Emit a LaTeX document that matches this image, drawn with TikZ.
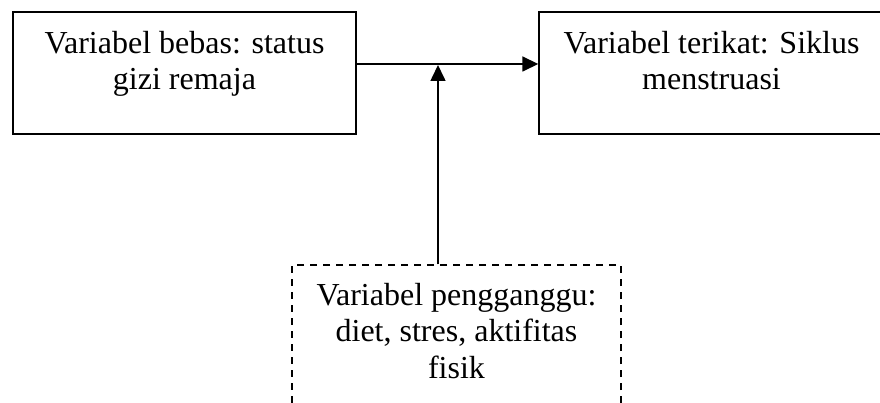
\documentclass[tikz,border=0pt]{standalone}
\usepackage{fontspec}
\setmainfont{Liberation Serif}
\usepackage{tikz}
\usetikzlibrary{arrows.meta}

\tikzset{
  kotak/.style={draw, line width=1.4pt, inner sep=0pt},
  kotakputus/.style={kotak, dash pattern=on 7pt off 6pt},
  teks/.style={inner sep=0pt, align=center, anchor=north,
    font=\fontsize{32}{36.5}\selectfont},
  panah/.style={line width=1.6pt, -{Triangle[length=16pt,width=15pt]}}
}

\begin{document}
\begin{tikzpicture}[x=1pt,y=1pt,yscale=-1,xscale=1]
\useasboundingbox (0,0) rectangle (880,403);
\clip (0,0) rectangle (880,403);

%Shape: Rectangle [bebas]
\node[kotak, minimum width=343, minimum height=122] (bebas) at (184.5,73) {};
%Shape: Rectangle [terikat]
\node[kotak, minimum width=345, minimum height=122] (terikat) at (711.5,73) {};
%Shape: Dashed Rectangle [pengganggu]
\node[kotakputus, minimum width=329, minimum height=160] (pengganggu) at (456.5,345) {};

% Text Node
\node[teks] (tbebas) at (184.5,31) {Variabel bebas: status\\gizi remaja};
% Text Node
\node[teks] (tterikat) at (711.5,31) {Variabel terikat: Siklus\\menstruasi};
% Text Node
\node[teks] (tpengganggu) at (456.5,283) {Variabel pengganggu:\\diet, stres, aktifitas\\fisik};

%Arrows
\coordinate (temu) at (438,65);
\draw[panah] ([yshift=-9pt]bebas.east) -- ([yshift=-9pt]terikat.west);
\draw[panah] (pengganggu.north -| temu) -- (temu);

\end{tikzpicture}
\end{document}
